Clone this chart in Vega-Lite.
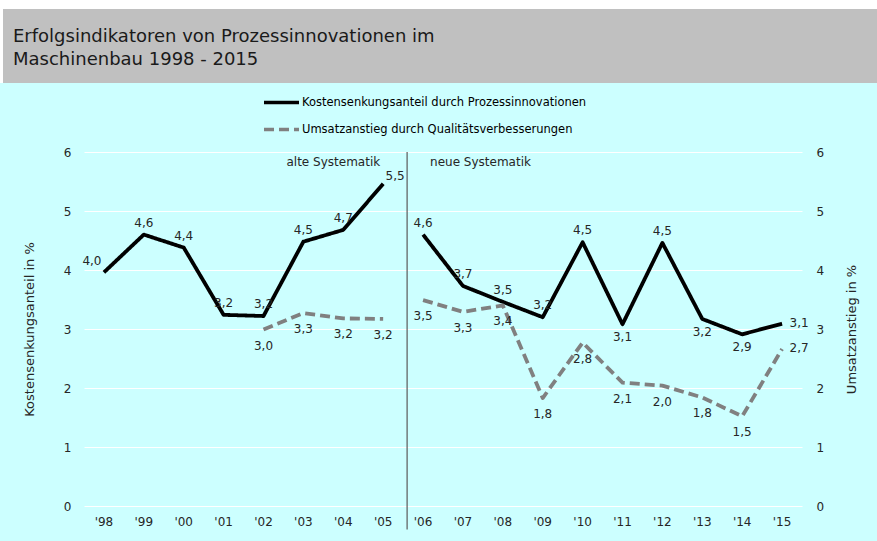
{
  "$schema": "https://vega.github.io/schema/vega-lite/v6.json",
  "background": "#ccffff",
  "padding": {"left": 0, "top": 0, "right": 0, "bottom": 10},
  "spacing": 63,
  "config": {
    "font": "DejaVu Sans",
    "locale": {"number": {"decimal": ",", "thousands": ".", "grouping": [3], "currency": ["", " €"]}},
    "view": {"stroke": null},
    "axis": {"labelFont": "DejaVu Sans", "titleFont": "DejaVu Sans", "labelColor": "#262626", "titleColor": "#262626", "titleFontWeight": "normal", "labelFontSize": 12, "titleFontSize": 13, "domain": false, "ticks": false},
    "legend": {"labelFont": "DejaVu Sans", "labelFontSize": 11.5, "labelColor": "#000000", "labelLimit": 600, "symbolType": "stroke", "symbolSize": 1225, "symbolStrokeWidth": 3.5, "labelOffset": 1, "rowPadding": -8, "padding": 0},
    "text": {"font": "DejaVu Sans"}
  },
  "datasets": {
    "werte": [
      {"jahr": "'98", "serie": "Kostensenkungsanteil durch Prozessinnovationen", "systematik": "alt", "wert": 3.96},
      {"jahr": "'99", "serie": "Kostensenkungsanteil durch Prozessinnovationen", "systematik": "alt", "wert": 4.6},
      {"jahr": "'00", "serie": "Kostensenkungsanteil durch Prozessinnovationen", "systematik": "alt", "wert": 4.38},
      {"jahr": "'01", "serie": "Kostensenkungsanteil durch Prozessinnovationen", "systematik": "alt", "wert": 3.24},
      {"jahr": "'02", "serie": "Kostensenkungsanteil durch Prozessinnovationen", "systematik": "alt", "wert": 3.22},
      {"jahr": "'03", "serie": "Kostensenkungsanteil durch Prozessinnovationen", "systematik": "alt", "wert": 4.48},
      {"jahr": "'04", "serie": "Kostensenkungsanteil durch Prozessinnovationen", "systematik": "alt", "wert": 4.68},
      {"jahr": "'05", "serie": "Kostensenkungsanteil durch Prozessinnovationen", "systematik": "alt", "wert": 5.46},
      {"jahr": "'06", "serie": "Kostensenkungsanteil durch Prozessinnovationen", "systematik": "neu", "wert": 4.6},
      {"jahr": "'07", "serie": "Kostensenkungsanteil durch Prozessinnovationen", "systematik": "neu", "wert": 3.73},
      {"jahr": "'08", "serie": "Kostensenkungsanteil durch Prozessinnovationen", "systematik": "neu", "wert": 3.46},
      {"jahr": "'09", "serie": "Kostensenkungsanteil durch Prozessinnovationen", "systematik": "neu", "wert": 3.2},
      {"jahr": "'10", "serie": "Kostensenkungsanteil durch Prozessinnovationen", "systematik": "neu", "wert": 4.47},
      {"jahr": "'11", "serie": "Kostensenkungsanteil durch Prozessinnovationen", "systematik": "neu", "wert": 3.08},
      {"jahr": "'12", "serie": "Kostensenkungsanteil durch Prozessinnovationen", "systematik": "neu", "wert": 4.46},
      {"jahr": "'13", "serie": "Kostensenkungsanteil durch Prozessinnovationen", "systematik": "neu", "wert": 3.17},
      {"jahr": "'14", "serie": "Kostensenkungsanteil durch Prozessinnovationen", "systematik": "neu", "wert": 2.91},
      {"jahr": "'15", "serie": "Kostensenkungsanteil durch Prozessinnovationen", "systematik": "neu", "wert": 3.09},
      {"jahr": "'02", "serie": "Umsatzanstieg durch Qualitätsverbesserungen", "systematik": "alt", "wert": 2.99},
      {"jahr": "'03", "serie": "Umsatzanstieg durch Qualitätsverbesserungen", "systematik": "alt", "wert": 3.27},
      {"jahr": "'04", "serie": "Umsatzanstieg durch Qualitätsverbesserungen", "systematik": "alt", "wert": 3.18},
      {"jahr": "'05", "serie": "Umsatzanstieg durch Qualitätsverbesserungen", "systematik": "alt", "wert": 3.17},
      {"jahr": "'06", "serie": "Umsatzanstieg durch Qualitätsverbesserungen", "systematik": "neu", "wert": 3.49},
      {"jahr": "'07", "serie": "Umsatzanstieg durch Qualitätsverbesserungen", "systematik": "neu", "wert": 3.29},
      {"jahr": "'08", "serie": "Umsatzanstieg durch Qualitätsverbesserungen", "systematik": "neu", "wert": 3.4},
      {"jahr": "'09", "serie": "Umsatzanstieg durch Qualitätsverbesserungen", "systematik": "neu", "wert": 1.83},
      {"jahr": "'10", "serie": "Umsatzanstieg durch Qualitätsverbesserungen", "systematik": "neu", "wert": 2.77},
      {"jahr": "'11", "serie": "Umsatzanstieg durch Qualitätsverbesserungen", "systematik": "neu", "wert": 2.09},
      {"jahr": "'12", "serie": "Umsatzanstieg durch Qualitätsverbesserungen", "systematik": "neu", "wert": 2.04},
      {"jahr": "'13", "serie": "Umsatzanstieg durch Qualitätsverbesserungen", "systematik": "neu", "wert": 1.84},
      {"jahr": "'14", "serie": "Umsatzanstieg durch Qualitätsverbesserungen", "systematik": "neu", "wert": 1.52},
      {"jahr": "'15", "serie": "Umsatzanstieg durch Qualitätsverbesserungen", "systematik": "neu", "wert": 2.66}
    ],
    "linie": [{"jahr": "'06", "oben": 6, "unten": -0.4}],
    "notiz": [
      {"jahr": "'05", "y": 5.83, "text": "alte Systematik"},
      {"jahr": "'06", "y": 5.83, "text": "neue Systematik"}
    ]
  },
  "vconcat": [
    {
      "spacing": 0,
      "vconcat": [
        {
          "width": 877,
          "height": 9,
          "view": {"fill": "#ffffff", "stroke": null},
          "data": {"values": []},
          "mark": {"type": "point", "opacity": 0}
        },
        {
          "spacing": 0,
          "hconcat": [
            {
              "width": 3,
              "height": 74,
              "view": {"fill": "#ffffff", "stroke": null},
              "data": {"values": []},
              "mark": {"type": "point", "opacity": 0}
            },
            {
              "width": 874,
              "height": 74,
              "view": {"fill": "#c0c0c0", "stroke": null},
              "data": {"values": []},
              "mark": {"type": "point", "opacity": 0},
              "title": {
                "text": ["Erfolgsindikatoren von Prozessinnovationen im", "Maschinenbau 1998 - 2015"],
                "anchor": "start",
                "frame": "group",
                "orient": "top",
                "offset": -60,
                "dx": 10,
                "font": "DejaVu Sans",
                "fontSize": 18,
                "fontWeight": "normal",
                "color": "#1a1a1a",
                "lineHeight": 23.5
              }
            }
          ]
        }
      ]
    },
    {
      "spacing": 0,
      "hconcat": [
        {
          "width": 23,
          "height": 10,
          "data": {"values": []},
          "mark": {"type": "point", "opacity": 0}
        },
        {
          "width": 718,
          "height": 354,
          "data": {"name": "werte"},
          "encoding": {
            "x": {
              "field": "jahr", "type": "ordinal", "bandPosition": 0.5,
              "scale": {"type": "band", "paddingInner": 0, "paddingOuter": 0, "domain": ["'98", "'99", "'00", "'01", "'02", "'03", "'04", "'05", "'06", "'07", "'08", "'09", "'10", "'11", "'12", "'13", "'14", "'15"]},
              "axis": {"title": null, "labelAngle": 0, "labelPadding": 10, "grid": false}
            }
          },
          "layer": [
            {
              "transform": [{"filter": {"field": "serie", "equal": "Kostensenkungsanteil durch Prozessinnovationen"}}],
              "mark": {"type": "line", "strokeWidth": 3.8, "strokeJoin": "round"},
              "encoding": {
                "y": {"field": "wert", "type": "quantitative", "scale": {"domain": [0, 6], "nice": false},
                  "axis": {"orient": "left", "title": "Kostensenkungsanteil in %", "values": [0, 1, 2, 3, 4, 5, 6], "grid": true, "gridColor": "#ffffff", "gridWidth": 1, "labelPadding": 13, "titlePadding": 27}},
                "color": {"field": "serie", "type": "nominal", "scale": {"domain": ["Kostensenkungsanteil durch Prozessinnovationen", "Umsatzanstieg durch Qualitätsverbesserungen"], "range": ["#000000", "#808080"]},
                  "legend": {"orient": "none", "legendX": 262, "legendY": 83, "direction": "vertical", "title": null}},
                "strokeDash": {"field": "serie", "type": "nominal", "scale": {"domain": ["Kostensenkungsanteil durch Prozessinnovationen", "Umsatzanstieg durch Qualitätsverbesserungen"], "range": [[1, 0], [10, 5]]},
                  "legend": {"orient": "none", "legendX": 262, "legendY": 83, "direction": "vertical", "title": null}},
                "detail": {"field": "systematik"}
              }
            },
            {
              "transform": [{"filter": {"field": "serie", "equal": "Umsatzanstieg durch Qualitätsverbesserungen"}}],
              "mark": {"type": "line", "strokeWidth": 3.8, "strokeJoin": "round"},
              "encoding": {
                "y": {"field": "wert", "type": "quantitative", "scale": {"domain": [0, 6], "nice": false},
                  "axis": {"orient": "right", "title": "Umsatzanstieg in %", "titleAngle": 270, "values": [0, 1, 2, 3, 4, 5, 6], "grid": false, "labelPadding": 14, "titlePadding": 35}},
                "color": {"field": "serie", "type": "nominal", "scale": {"domain": ["Kostensenkungsanteil durch Prozessinnovationen", "Umsatzanstieg durch Qualitätsverbesserungen"], "range": ["#000000", "#808080"]},
                  "legend": {"orient": "none", "legendX": 262, "legendY": 83, "direction": "vertical", "title": null}},
                "strokeDash": {"field": "serie", "type": "nominal", "scale": {"domain": ["Kostensenkungsanteil durch Prozessinnovationen", "Umsatzanstieg durch Qualitätsverbesserungen"], "range": [[1, 0], [10, 5]]},
                  "legend": {"orient": "none", "legendX": 262, "legendY": 83, "direction": "vertical", "title": null}},
                "detail": {"field": "systematik"}
              }
            },
            {
              "transform": [
                {"filter": {"field": "serie", "equal": "Kostensenkungsanteil durch Prozessinnovationen"}},
                {"filter": {"not": {"field": "jahr", "oneOf": ["'98", "'05", "'11", "'13", "'14", "'15"]}}}
              ],
              "mark": {"type": "text", "fontSize": 12, "color": "#262626", "dy": -12},
              "encoding": {
                "y": {"field": "wert", "type": "quantitative", "scale": {"domain": [0, 6], "nice": false}, "axis": null},
                "text": {"field": "wert", "type": "quantitative", "format": ".1f"}
              }
            },
            {
              "transform": [
                {"filter": {"field": "serie", "equal": "Kostensenkungsanteil durch Prozessinnovationen"}},
                {"filter": {"field": "jahr", "oneOf": ["'98"]}}
              ],
              "mark": {"type": "text", "fontSize": 12, "color": "#262626", "dy": -11, "dx": -12},
              "encoding": {
                "y": {"field": "wert", "type": "quantitative", "scale": {"domain": [0, 6], "nice": false}, "axis": null},
                "text": {"field": "wert", "type": "quantitative", "format": ".1f"}
              }
            },
            {
              "transform": [
                {"filter": {"field": "serie", "equal": "Kostensenkungsanteil durch Prozessinnovationen"}},
                {"filter": {"field": "jahr", "oneOf": ["'05"]}}
              ],
              "mark": {"type": "text", "fontSize": 12, "color": "#262626", "dy": -8, "dx": 12},
              "encoding": {
                "y": {"field": "wert", "type": "quantitative", "scale": {"domain": [0, 6], "nice": false}, "axis": null},
                "text": {"field": "wert", "type": "quantitative", "format": ".1f"}
              }
            },
            {
              "transform": [
                {"filter": {"field": "serie", "equal": "Kostensenkungsanteil durch Prozessinnovationen"}},
                {"filter": {"field": "jahr", "oneOf": ["'11", "'13", "'14"]}}
              ],
              "mark": {"type": "text", "fontSize": 12, "color": "#262626", "dy": 13},
              "encoding": {
                "y": {"field": "wert", "type": "quantitative", "scale": {"domain": [0, 6], "nice": false}, "axis": null},
                "text": {"field": "wert", "type": "quantitative", "format": ".1f"}
              }
            },
            {
              "transform": [
                {"filter": {"field": "serie", "equal": "Umsatzanstieg durch Qualitätsverbesserungen"}},
                {"filter": {"not": {"field": "jahr", "oneOf": ["'15"]}}}
              ],
              "mark": {"type": "text", "fontSize": 12, "color": "#262626", "dy": 16},
              "encoding": {
                "y": {"field": "wert", "type": "quantitative", "scale": {"domain": [0, 6], "nice": false}, "axis": null},
                "text": {"field": "wert", "type": "quantitative", "format": ".1f"}
              }
            },
            {
              "transform": [{"filter": {"field": "jahr", "oneOf": ["'15"]}}],
              "mark": {"type": "text", "fontSize": 12, "color": "#262626", "dx": 17, "dy": -1},
              "encoding": {
                "y": {"field": "wert", "type": "quantitative", "scale": {"domain": [0, 6], "nice": false}, "axis": null},
                "text": {"field": "wert", "type": "quantitative", "format": ".1f"}
              }
            },
            {
              "data": {"name": "linie"},
              "mark": {"type": "rule", "color": "#5a5a5a", "strokeWidth": 1.2},
              "encoding": {
                "x": {"field": "jahr", "type": "ordinal", "bandPosition": 0.1,
                  "scale": {"type": "band", "paddingInner": 0, "paddingOuter": 0, "domain": ["'98", "'99", "'00", "'01", "'02", "'03", "'04", "'05", "'06", "'07", "'08", "'09", "'10", "'11", "'12", "'13", "'14", "'15"]},
                  "axis": {"title": null, "labelAngle": 0, "labelPadding": 10, "grid": false}},
                "y": {"field": "oben", "type": "quantitative", "scale": {"domain": [0, 6], "nice": false}, "axis": null},
                "y2": {"field": "unten"}
              }
            },
            {
              "data": {"name": "notiz"},
              "transform": [{"filter": {"field": "jahr", "equal": "'05"}}],
              "mark": {"type": "text", "fontSize": 12, "color": "#262626", "align": "right", "dx": -3},
              "encoding": {
                "y": {"field": "y", "type": "quantitative", "scale": {"domain": [0, 6], "nice": false}, "axis": null},
                "text": {"field": "text"}
              }
            },
            {
              "data": {"name": "notiz"},
              "transform": [{"filter": {"field": "jahr", "equal": "'06"}}],
              "mark": {"type": "text", "fontSize": 12, "color": "#262626", "align": "left", "dx": 7},
              "encoding": {
                "y": {"field": "y", "type": "quantitative", "scale": {"domain": [0, 6], "nice": false}, "axis": null},
                "text": {"field": "text"}
              }
            }
          ],
          "resolve": {"scale": {"y": "independent"}}
        }
      ]
    }
  ]
}
